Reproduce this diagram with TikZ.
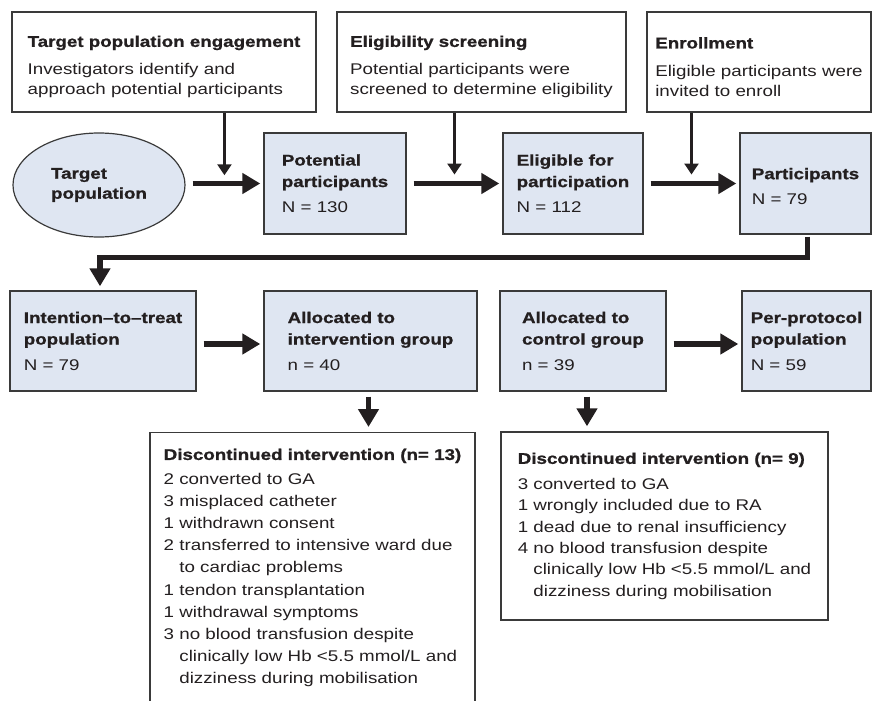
\documentclass[tikz,border=0pt]{standalone}
\usepackage{fontspec}
\setmainfont{Liberation Sans}[FakeStretch=1.21, BoldFeatures={FakeBold=1}]
\usepackage{xcolor}
\usepackage{tikz}
\usetikzlibrary{arrows.meta,shapes.geometric,calc}

\definecolor{stageblue}{HTML}{DFE6F2}
\definecolor{framegray}{HTML}{3A3A3A}
\definecolor{ink}{HTML}{231F20}

\begin{document}
\begin{tikzpicture}[
x=1pt, y=-1pt,
every node/.style={text=ink},
infobox/.style={draw=framegray, line width=1.4pt, fill=white, align=left, inner sep=0pt,
  font=\fontsize{15.5}{20}\selectfont},
stagebox/.style={draw=framegray, line width=1.4pt, fill=stageblue, align=left, inner sep=0pt,
  font=\fontsize{15.5}{21.5}\selectfont},
dropbox/.style={draw=framegray, line width=1.4pt, fill=white, align=left, inner sep=0pt},
flow/.style={draw=ink, line width=5.5pt, -{Triangle[length=18pt,width=20pt]}, shorten <=7pt, shorten >=3pt},
feed/.style={draw=ink, line width=2.5pt, -{Triangle[length=11pt,width=14pt]}}
]
\path[use as bounding box, clip] (0,0) rectangle (873,701);

% recruitment steps
\node[infobox, minimum width=304pt, minimum height=100pt] (engage) at (164,62)
  {\rule{0pt}{21pt}\textbf{Target population engagement}\\[8pt]
   Investigators identify and\\
   approach potential participants};
\node[infobox, minimum width=289pt, minimum height=100pt] (screen) at (481.5,62)
  {\rule{0pt}{21pt}\textbf{Eligibility screening}\\[8pt]
   Potential participants were\\
   screened to determine eligibility};
\node[infobox, minimum width=224pt, minimum height=100pt] (enrol) at (759,62)
  {\rule{0pt}{21pt}\textbf{Enrollment}\\[8pt]
   Eligible participants were\\
   invited to enroll};

% population counts
\node[ellipse, draw=framegray, line width=1.2pt, fill=stageblue, minimum width=172pt,
  minimum height=104pt, inner sep=0pt, align=left,
  font=\fontsize{15.5}{20}\selectfont\bfseries] (tpop) at (99,185) {Target\\population};
\node[stagebox, minimum width=142pt, minimum height=101pt] (potent) at (335,183.5)
  {\textbf{Potential}\\\textbf{participants}\\[4pt]N = 130};
\node[stagebox, minimum width=140pt, minimum height=101pt] (elig) at (573,183.5)
  {\textbf{Eligible for}\\\textbf{participation}\\[4pt]N = 112};
\node[stagebox, minimum width=131pt, minimum height=101pt] (partic) at (805.5,183.5)
  {\rule{0pt}{17pt}\textbf{Participants}\\[4pt]N = 79};

\node[stagebox, minimum width=186pt, minimum height=100pt] (itt) at (103,341)
  {\textbf{Intention--to--treat}\\\textbf{population}\\[4pt]N = 79};
\node[stagebox, minimum width=213pt, minimum height=100pt] (interv) at (370.5,341)
  {\textbf{Allocated to}\\\textbf{intervention group}\\[4pt]n = 40};
\node[stagebox, minimum width=166pt, minimum height=100pt] (contr) at (583,341)
  {\textbf{Allocated to}\\\textbf{control group}\\[4pt]n = 39};
\node[stagebox, minimum width=129pt, minimum height=100pt] (perprot) at (806.5,341)
  {\textbf{Per-protocol}\\\textbf{population}\\[4pt]N = 59};

% drop-outs
\node[dropbox, minimum width=325pt, inner ysep=16pt, anchor=north,
  font=\fontsize{15.5}{22.2}\selectfont] (dropint) at (312.5,432)
  {\textbf{Discontinued intervention (n= 13)}\\[2pt]
   2 converted to GA\\
   3 misplaced catheter\\
   1 withdrawn consent\\
   2 transferred to intensive ward due\\
   \hphantom{2 }to cardiac problems\\
   1 tendon transplantation\\
   1 withdrawal symptoms\\
   3 no blood transfusion despite\\
   \hphantom{3 }clinically low Hb <5.5 mmol/L and\\
   \hphantom{3 }dizziness during mobilisation\rule[-24pt]{0pt}{0pt}};
\node[dropbox, minimum width=327pt, minimum height=188pt,
  font=\fontsize{15.5}{21.3}\selectfont] (dropctl) at (664.5,526)
  {\textbf{Discontinued intervention (n= 9)}\\[4.5pt]
   3 converted to GA\\
   1 wrongly included due to RA\\
   1 dead due to renal insufficiency\\
   4 no blood transfusion despite\\
   \hphantom{4 }clinically low Hb <5.5 mmol/L and\\
   \hphantom{4 }dizziness during mobilisation};

% arrows
\coordinate (m1) at ($(tpop.east)!0.5!(potent.west)$);
\coordinate (m2) at ($(potent.east)!0.5!(elig.west)$);
\coordinate (m3) at ($(elig.east)!0.5!(partic.west)$);
\draw[flow] (tpop.east |- potent.west) -- (potent.west);
\draw[flow] (potent.east) -- (elig.west);
\draw[flow] (elig.east) -- (partic.west);
\draw[feed] (engage.south -| m1) -- ([yshift=9pt]m1);
\draw[feed] (screen.south -| m2) -- ([yshift=9pt]m2);
\draw[feed] (enrol.south -| m3) -- ([yshift=9pt]m3);
\draw[flow, shorten <=2pt, shorten >=4pt] ([xshift=2pt]partic.south) -- ++(0,23) -| ([xshift=-3pt]itt.north);
\draw[flow] ([yshift=-3pt]itt.east) -- ([yshift=-3pt]interv.west);
\draw[flow] ([yshift=-3pt]contr.east) -- ([yshift=-3pt]perprot.west);
\draw[flow, shorten <=5pt, shorten >=5pt] ([xshift=-2pt]interv.south) -- ([xshift=-2pt]interv.south |- dropint.north);
\draw[flow, shorten <=5pt, shorten >=5pt] ([xshift=4pt]contr.south) -- ([xshift=4pt]contr.south |- dropctl.north);
\end{tikzpicture}
\end{document}
